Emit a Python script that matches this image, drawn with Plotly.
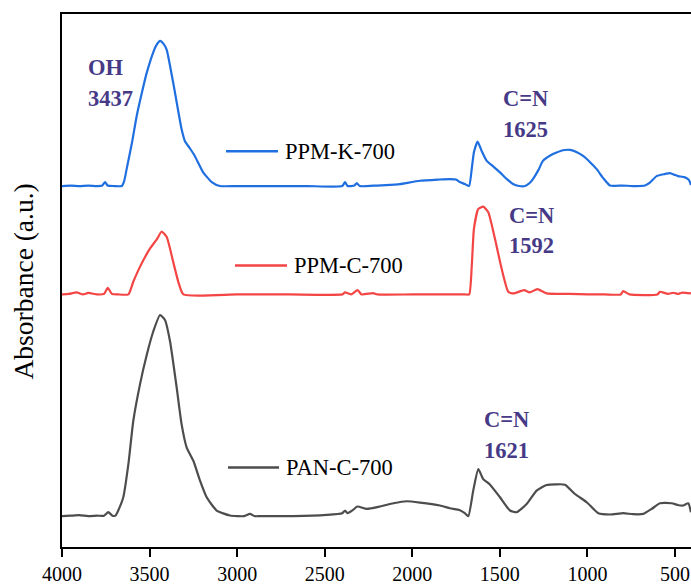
import plotly.graph_objects as go

# ---------------- data ----------------
series_names = ["PPM-K-700", "PPM-C-700", "PAN-C-700"]
series_colors = ["#1f6fe0", "#f44545", "#4d4d4d"]
series_offsets = [363, 254, 31]   # vertical stacking offsets (a.u.)

ppmk_wn = [4000, 3950, 3900, 3850, 3800, 3770, 3754, 3740, 3700, 3659, 3645, 3631, 3600, 3574,
           3545, 3516, 3480, 3460, 3440, 3420, 3402, 3380, 3355, 3317, 3298, 3270, 3241, 3195,
           3145, 3098, 3000, 2800, 2600, 2400, 2384, 2370, 2330, 2317, 2300, 2200, 2100, 2070,
           1956, 1850, 1785, 1750, 1728, 1700, 1676, 1660, 1648, 1627, 1604, 1575, 1540, 1499,
           1460, 1425, 1390, 1356, 1330, 1311, 1280, 1254, 1210, 1176, 1140, 1099, 1060, 1025,
           985, 947, 910, 871, 800, 740, 671, 640, 605, 560, 529, 500, 482, 443, 420, 409]
ppmk_abs = [0, 0.5, 0, 0.5, 0, 0.5, 4, 0.5, 0, 0, 5, 17, 44, 70,
            93, 114, 134, 142, 146, 143, 137, 118, 94, 57, 45, 38, 30, 14,
            4, 0, 0, 0, 0, 0, 4, 0, 0.5, 3, 0, 0.5, 1.5, 2,
            5.3, 6.5, 7, 6.5, 4, 2, 0, 18, 34, 44.7, 35.3, 25.3, 20, 13.7,
            7, 2, 0, 0, 3, 7, 16, 25.3, 31, 33.7, 36, 36.3, 34, 30.3,
            24, 17, 8, 0.5, 0.5, 0, 0.5, 4, 10, 12, 13, 11, 10, 8.7, 6, 1]

ppmc_wn = [4000, 3960, 3916, 3880, 3850, 3800, 3760, 3739, 3715, 3680, 3621, 3593, 3555, 3498,
           3459, 3431, 3402, 3365, 3336, 3307, 3000, 2700, 2400, 2384, 2350, 2312, 2290, 2224,
           2200, 2000, 1800, 1700, 1675, 1660, 1648, 1623, 1595, 1566, 1528, 1490, 1452, 1423,
           1362, 1330, 1286, 1233, 1100, 1000, 900, 810, 795, 760, 600, 586, 540, 510, 480, 462,
           409]
ppmc_abs = [0, 0.5, 2, 0, 1.5, 0, 0.5, 6.7, 0.5, 0, 0, 12.7, 27.7, 46,
            55.3, 63.3, 57.7, 32.7, 12.7, 0, 0, 0, 0, 2, 0, 4.3, 0, 1.3,
            0, 0, 0, 0, 0, 30, 66, 86, 88.3, 82.7, 56, 26, 2.7, 1,
            4.3, 2, 5.3, 1, 0.5, 0, 0, 0, 3.3, 0, 0, 2.7, 0.5, 1.7, 0.5, 1.7,
            1]

panc_wn = [4000, 3950, 3900, 3850, 3800, 3760, 3736, 3712, 3695, 3679, 3650, 3621, 3593, 3555,
           3516, 3479, 3440, 3412, 3383, 3345, 3317, 3288, 3250, 3212, 3174, 3117, 3041, 2960,
           2927, 2900, 2869, 2679, 2489, 2400, 2384, 2370, 2340, 2314, 2260, 2184, 2108, 2032,
           1956, 1842, 1785, 1728, 1700, 1680, 1652, 1623, 1595, 1556, 1499, 1442, 1404, 1347,
           1290, 1233, 1180, 1128, 1071, 1004, 938, 871, 795, 740, 681, 633, 586, 519, 480, 453,
           424, 409]
panc_abs = [0, 0.5, 1, 0, 0.5, 0.5, 4, 0.5, 0.5, 5.7, 19, 52.3, 95.7, 132.3,
            162.3, 185.7, 202.3, 197.3, 175.7, 129, 92.3, 69, 55.7, 35.7, 19, 5.7, 0.7, 0,
            2.3, 0, 0, 0, 1.3, 3, 5.7, 3, 6, 9.7, 7.3, 9.7, 13, 15,
            13.7, 10.7, 8, 6, 3, 0, 25.7, 47.3, 37.3, 31.7, 19, 5.7, 4, 12.3,
            25.7, 31.3, 32, 31.7, 22.3, 14, 3, 1.7, 3, 2, 2.3, 7.3, 13, 13, 11, 10.7,
            13, 4]

series_wn = [ppmk_wn, ppmc_wn, panc_wn]
series_abs = [ppmk_abs, ppmc_abs, panc_abs]

# peak labels
peak_groups = ["OH", "C=N", "C=N", "C=N"]
peak_values = ["3437", "1625", "1592", "1621"]

x_ticks = [4000, 3500, 3000, 2500, 2000, 1500, 1000, 500]
y_title = "Absorbance (a.u.)"

# ---------------- layout helpers (pixel -> data) ----------------
W, H = 691, 585
ML, MR, MT, MB = 62, 0, 14, 35
X0, X1 = 4000, 408.6
Y0, Y1 = 0, 536
PW, PH = W - ML - MR, H - MT - MB


def xd(px):
    return X0 + (px - ML) / PW * (X1 - X0)


def yd(py):
    return Y0 + (H - MB - py) / PH * (Y1 - Y0)


FONT = "Liberation Serif, Times New Roman, serif"
PURPLE = "#463a87"

fig = go.Figure()
for name, wn, ab, off, col in zip(series_names, series_wn, series_abs, series_offsets, series_colors):
    fig.add_trace(go.Scatter(
        x=wn, y=[v + off for v in ab], mode="lines", name=name,
        line=dict(color=col, width=2.2, shape="spline", smoothing=0.5),
        showlegend=False, hoverinfo="skip"))

# in-plot legend entries (line sample + label)
legend_px = [(226, 278, 152), (235, 287, 267), (228, 279, 470)]
for (xa, xb, yy), name, col in zip(legend_px, series_names, series_colors):
    fig.add_shape(type="line", xref="x", yref="y", x0=xd(xa), x1=xd(xb), y0=yd(yy), y1=yd(yy),
                  line=dict(color=col, width=2.5))
    fig.add_annotation(x=xd(xb + 5), y=yd(yy), xref="x", yref="y", text=name, showarrow=False,
                       xanchor="left", yanchor="middle",
                       font=dict(family=FONT, size=22.5, color="black"))

# peak annotations
peak_px = [(86, 68, 99), (501, 99, 130), (507, 217, 247), (482, 422, 453)]
for (px, py1, py2), g, v in zip(peak_px, peak_groups, peak_values):
    for py, t in ((py1, g), (py2, v)):
        fig.add_annotation(x=xd(px), y=yd(py), xref="x", yref="y", text="<b>%s</b>" % t,
                           showarrow=False, xanchor="left", yanchor="middle",
                           font=dict(family=FONT, size=22.5, color=PURPLE))

# y-axis title placed as rotated text
fig.add_annotation(x=(23 - ML) / PW, y=(H - MB - 283) / PH, xref="paper", yref="paper",
                   text=y_title, textangle=-90, showarrow=False,
                   xanchor="center", yanchor="middle",
                   font=dict(family=FONT, size=27.5, color="black"))

fig.update_layout(
    width=W, height=H,
    margin=dict(l=ML, r=MR, t=MT, b=MB, pad=0),
    paper_bgcolor="white", plot_bgcolor="white",
    font=dict(family=FONT, color="black"),
    showlegend=False,
    xaxis=dict(range=[X0, X1], tickmode="array", tickvals=x_ticks,
               ticktext=[str(t) for t in x_ticks],
               showline=True, linecolor="black", linewidth=2, mirror=True,
               ticks="outside", ticklen=8, tickwidth=2, tickcolor="black",
               showgrid=False, zeroline=False,
               tickfont=dict(family=FONT, size=20, color="black")),
    yaxis=dict(range=[Y0, Y1], showticklabels=False, ticks="",
               showline=True, linecolor="black", linewidth=2, mirror=False,
               showgrid=False, zeroline=False),
)

fig.write_html("out.html")
